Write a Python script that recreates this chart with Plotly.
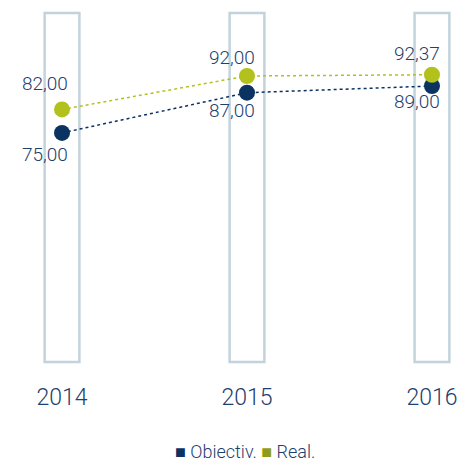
import plotly.graph_objects as go

years = [2014, 2015, 2016]
objectiv = [75.00, 87.00, 89.00]
real = [82.00, 92.00, 92.37]
series_names = ["Obiectiv.", "Real."]

NAVY = "#0b3361"
GREEN = "#b3c11d"
GREEN_LEG = "#8e9c1b"
FRAME = "#c3d3dc"
TEXT = "#1e406c"
FONT = "Roboto"

def fmt(v):
    return f"{v:.2f}".replace(".", ",")

fig = go.Figure()

# decorative frames per year
for yr in years:
    fig.add_shape(type="rect", xref="x", yref="paper",
                  x0=yr - 0.094, x1=yr + 0.094, y0=0, y1=1,
                  line=dict(color=FRAME, width=2.5), fillcolor="rgba(0,0,0,0)",
                  layer="below")

fig.add_trace(go.Scatter(x=years, y=objectiv, mode="lines+markers",
                         line=dict(color=NAVY, width=1.5, dash="dot"),
                         marker=dict(color=NAVY, size=16), showlegend=False,
                         hoverinfo="skip"))
fig.add_trace(go.Scatter(x=years, y=real, mode="lines+markers",
                         line=dict(color=GREEN, width=1.5, dash="dot"),
                         marker=dict(color=GREEN, size=16), showlegend=False,
                         hoverinfo="skip"))

real_shift = [26, 18, 21]
obj_shift = [-22, -18, -15]
x_shift = [-17, -15, -15]
for i, yr in enumerate(years):
    fig.add_annotation(x=yr, y=real[i], text=fmt(real[i]), showarrow=False,
                       xshift=x_shift[i], yshift=real_shift[i],
                       font=dict(family=FONT, size=19, color=TEXT, weight=300))
    fig.add_annotation(x=yr, y=objectiv[i], text=fmt(objectiv[i]), showarrow=False,
                       xshift=x_shift[i], yshift=obj_shift[i],
                       font=dict(family=FONT, size=19, color=TEXT, weight=300))

# custom legend
legend_text = (f"<span style='color:{NAVY};font-size:18px'>■</span> {series_names[0]} "
               f"<span style='color:{GREEN_LEG};font-size:18px'>■</span> {series_names[1]}")
fig.add_annotation(xref="paper", yref="paper", x=0.5, y=-0.257, xanchor="center",
                   yanchor="middle", text=legend_text, showarrow=False,
                   font=dict(family=FONT, size=18, color=TEXT, weight=300))

fig.update_layout(
    width=473, height=461,
    margin=dict(l=0, r=0, t=5, b=107, autoexpand=False),
    paper_bgcolor="white", plot_bgcolor="white",
    font=dict(family=FONT, color=TEXT, weight=300),
    xaxis=dict(range=[2013.708, 2016.265], tickvals=years,
               ticktext=[str(y) for y in years], showgrid=False, zeroline=False,
               showline=False, ticks="outside", ticklen=14, tickcolor="rgba(0,0,0,0)",
               tickfont=dict(family=FONT, size=23, color=TEXT, weight=300)),
    yaxis=dict(range=[6.6, 110.8], visible=False, showgrid=False, zeroline=False),
    showlegend=False,
)

fig.write_html("out.html")
